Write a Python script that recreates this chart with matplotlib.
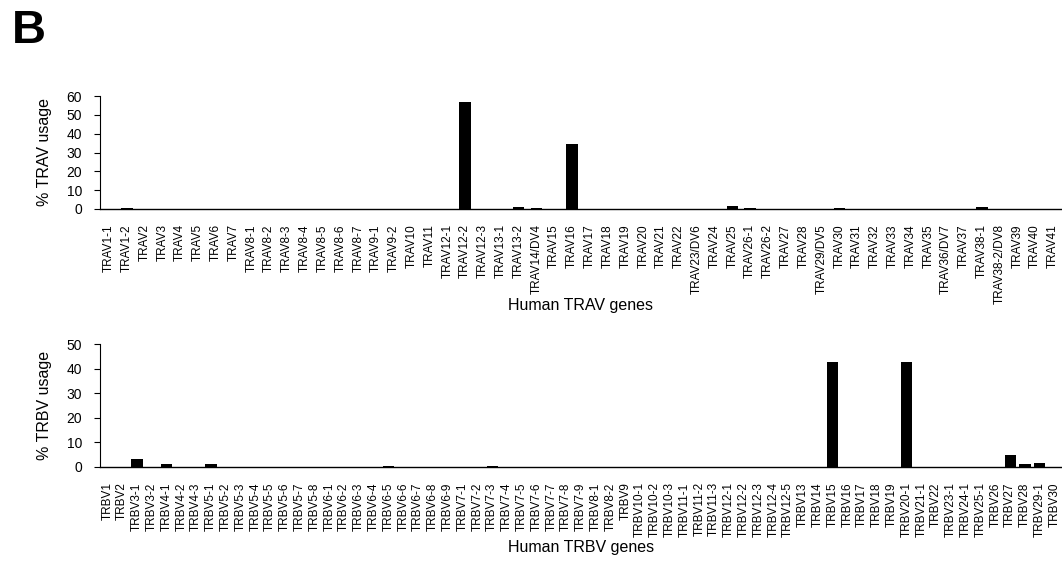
import numpy as np
import matplotlib
matplotlib.use("Agg")
import matplotlib.pyplot as plt

plt.rcParams['font.family'] = ['Liberation Sans', 'DejaVu Sans']

# data
trav_genes = ["TRAV1-1", "TRAV1-2", "TRAV2", "TRAV3", "TRAV4", "TRAV5", "TRAV6", "TRAV7",
              "TRAV8-1", "TRAV8-2", "TRAV8-3", "TRAV8-4", "TRAV8-5", "TRAV8-6", "TRAV8-7",
              "TRAV9-1", "TRAV9-2", "TRAV10", "TRAV11", "TRAV12-1", "TRAV12-2", "TRAV12-3",
              "TRAV13-1", "TRAV13-2", "TRAV14/DV4", "TRAV15", "TRAV16", "TRAV17", "TRAV18",
              "TRAV19", "TRAV20", "TRAV21", "TRAV22", "TRAV23/DV6", "TRAV24", "TRAV25",
              "TRAV26-1", "TRAV26-2", "TRAV27", "TRAV28", "TRAV29/DV5", "TRAV30", "TRAV31",
              "TRAV32", "TRAV33", "TRAV34", "TRAV35", "TRAV36/DV7", "TRAV37", "TRAV38-1",
              "TRAV38-2/DV8", "TRAV39", "TRAV40", "TRAV41"]
trav_usage = [0, 0.4, 0, 0, 0, 0, 0, 0,
              0, 0, 0, 0, 0, 0.1, 0,
              0, 0, 0, 0, 0.2, 56.8, 0,
              0, 1.3, 0.4, 0.1, 34.4, 0, 0,
              0, 0, 0, 0, 0, 0, 1.5,
              0.6, 0, 0, 0, 0.1, 0.3, 0,
              0, 0, 0, 0.1, 0, 0, 1.3,
              0, 0, 0, 0]

trbv_genes = ["TRBV1", "TRBV2", "TRBV3-1", "TRBV3-2", "TRBV4-1", "TRBV4-2", "TRBV4-3",
              "TRBV5-1", "TRBV5-2", "TRBV5-3", "TRBV5-4", "TRBV5-5", "TRBV5-6", "TRBV5-7",
              "TRBV5-8", "TRBV6-1", "TRBV6-2", "TRBV6-3", "TRBV6-4", "TRBV6-5", "TRBV6-6",
              "TRBV6-7", "TRBV6-8", "TRBV6-9", "TRBV7-1", "TRBV7-2", "TRBV7-3", "TRBV7-4",
              "TRBV7-5", "TRBV7-6", "TRBV7-7", "TRBV7-8", "TRBV7-9", "TRBV8-1", "TRBV8-2",
              "TRBV9", "TRBV10-1", "TRBV10-2", "TRBV10-3", "TRBV11-1", "TRBV11-2", "TRBV11-3",
              "TRBV12-1", "TRBV12-2", "TRBV12-3", "TRBV12-4", "TRBV12-5", "TRBV13", "TRBV14",
              "TRBV15", "TRBV16", "TRBV17", "TRBV18", "TRBV19", "TRBV20-1", "TRBV21-1",
              "TRBV22", "TRBV23-1", "TRBV24-1", "TRBV25-1", "TRBV26", "TRBV27", "TRBV28",
              "TRBV29-1", "TRBV30"]
trbv_usage = [0, 0, 3.3, 0, 1.1, 0, 0,
              1.3, 0, 0, 0, 0, 0, 0,
              0, 0, 0, 0, 0, 0.4, 0,
              0, 0, 0, 0, 0, 0.4, 0,
              0, 0, 0, 0, 0, 0, 0,
              0, 0, 0, 0, 0, 0, 0,
              0, 0, 0, 0, 0, 0, 0,
              42.8, 0, 0, 0, 0, 42.8, 0,
              0, 0, 0, 0, 0, 4.8, 1.1,
              1.5, 0]

W, H = 1062, 563
fig = plt.figure(figsize=(W / 100, H / 100), dpi=100)


def panel(rect, genes, usage, ymax, width, ylabel, xlabel, label_y):
    ax = fig.add_axes(rect)
    x = np.arange(len(genes))
    ax.bar(x, usage, width=width, color='black')
    ax.set_xlim(-0.5, len(genes) - 0.5)
    ax.set_ylim(0, ymax)
    ax.set_yticks(np.arange(0, ymax + 1, 10))
    ax.set_xticks(x)
    ax.set_xticklabels(genes, rotation=90, fontsize=8.5)
    ax.tick_params(axis='x', length=0, pad=11)
    ax.tick_params(axis='y', length=4, width=0.8, labelsize=10, pad=9)
    for s in ['top', 'right']:
        ax.spines[s].set_visible(False)
    ax.spines['left'].set_linewidth(0.8)
    ax.spines['bottom'].set_linewidth(1.0)
    ax.set_ylabel(ylabel, fontsize=11.5, labelpad=10)
    ax.set_xlabel(xlabel, fontsize=11.5)
    ax.xaxis.set_label_coords(0.5, label_y)
    return ax


# top panel: TRAV
panel([100 / W, 1 - 209 / H, (W - 100) / W, 113 / H], trav_genes, trav_usage, 60, 0.65,
      "% TRAV usage", "Human TRAV genes", -0.79)

# bottom panel: TRBV
panel([100 / W, 1 - 467 / H, (W - 100) / W, 123 / H], trbv_genes, trbv_usage, 50, 0.76,
      "% TRBV usage", "Human TRBV genes", -0.59)

fig.text(12 / W, 1 - 43 / H, "B", fontsize=34, fontweight='bold', va='baseline')

fig.savefig("out.png", dpi=100)
